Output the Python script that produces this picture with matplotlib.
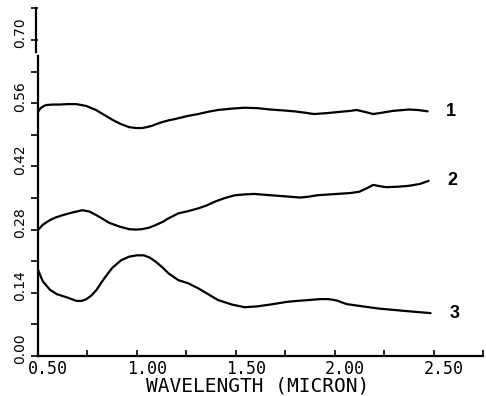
import numpy as np
import matplotlib
matplotlib.use('Agg')
import matplotlib.pyplot as plt
from matplotlib.transforms import ScaledTranslation

# Reflectance curves read against wavelength (micron)
wl1 = [0.50, 0.513, 0.53, 0.543, 0.575, 0.61, 0.65, 0.693, 0.743, 0.793, 0.835,
       0.877, 0.918, 0.96, 0.995, 1.027, 1.05, 1.077, 1.10, 1.127, 1.16, 1.193,
       1.26, 1.31, 1.36, 1.41, 1.48, 1.545, 1.61, 1.675, 1.74, 1.795, 1.85, 1.895,
       1.96, 2.03, 2.08, 2.11, 2.15, 2.195, 2.24, 2.295, 2.375, 2.42, 2.47]
r1 = [0.541, 0.549, 0.554, 0.556, 0.557, 0.557, 0.558, 0.558, 0.554, 0.545, 0.534,
      0.523, 0.514, 0.507, 0.505, 0.505, 0.507, 0.510, 0.514, 0.518, 0.522, 0.525,
      0.532, 0.536, 0.541, 0.545, 0.548, 0.550, 0.549, 0.546, 0.544, 0.542, 0.539, 0.536,
      0.538, 0.541, 0.543, 0.545, 0.541, 0.536, 0.539, 0.543, 0.546, 0.545, 0.542]

wl2 = [0.50, 0.525, 0.56, 0.59, 0.625, 0.675, 0.725, 0.76, 0.795, 0.83, 0.86,
       0.91, 0.96, 0.995, 1.025, 1.06, 1.095, 1.13, 1.16, 1.21, 1.26, 1.31, 1.35,
       1.395, 1.445, 1.495, 1.545, 1.595, 1.65, 1.71, 1.77, 1.825, 1.87, 1.91, 2.01,
       2.08, 2.125, 2.16, 2.195, 2.23, 2.26, 2.32, 2.375, 2.43, 2.475]
r2 = [0.279, 0.291, 0.301, 0.307, 0.312, 0.318, 0.323, 0.320, 0.312, 0.303, 0.295,
      0.287, 0.281, 0.280, 0.281, 0.284, 0.290, 0.297, 0.305, 0.316, 0.321, 0.327, 0.333,
      0.342, 0.350, 0.356, 0.358, 0.359, 0.357, 0.355, 0.353, 0.351, 0.353, 0.356, 0.359,
      0.361, 0.364, 0.371, 0.379, 0.376, 0.374, 0.375, 0.377, 0.381, 0.388]

wl3 = [0.50, 0.512, 0.525, 0.56, 0.595, 0.645, 0.695, 0.72, 0.745, 0.77, 0.795,
       0.835, 0.875, 0.92, 0.96, 1.00, 1.035, 1.065, 1.095, 1.13, 1.16, 1.21, 1.26,
       1.31, 1.36, 1.41, 1.48, 1.545, 1.61, 1.675, 1.76, 1.81, 1.87, 1.925, 1.97, 2.01,
       2.06, 2.14, 2.225, 2.35, 2.485]
r3 = [0.191, 0.178, 0.165, 0.147, 0.137, 0.130, 0.122, 0.122, 0.126, 0.134, 0.146,
      0.172, 0.195, 0.212, 0.220, 0.223, 0.223, 0.218, 0.209, 0.196, 0.183, 0.168, 0.161,
      0.150, 0.137, 0.124, 0.114, 0.108, 0.110, 0.114, 0.120, 0.122, 0.124, 0.126, 0.126,
      0.123, 0.115, 0.110, 0.105, 0.100, 0.095]

curve_names = ['1', '2', '3']
x_major = [0.50, 1.00, 1.50, 2.00, 2.50]
y_major = [0.00, 0.14, 0.28, 0.42, 0.56, 0.70]

fig = plt.figure(figsize=(4.86, 3.96), dpi=100)
ax = fig.add_axes([38 / 486, 40 / 396, 445 / 486, 347.6 / 396])

for wl, r, name in zip([wl1, wl2, wl3], [r1, r2, r3], curve_names):
    ax.plot(wl, r, color='black', lw=1.6, solid_joinstyle='round', solid_capstyle='round')
    ax.text(wl[-1] + 0.12, r[-1], name, ha='center', va='center',
            fontsize=13, fontweight='bold', family='Liberation Sans')

ax.set_xlim(0.5, 2.725)
ax.set_ylim(0.0, 0.77)

for side in ['top', 'right']:
    ax.spines[side].set_visible(False)
for side in ['left', 'bottom']:
    ax.spines[side].set_linewidth(1.6)

# broken y axis: lower part on the spine, upper part drawn a bit to the left
ax.spines['left'].set_bounds(0.0, 0.664)
ax.plot([-0.005, -0.005], [0.673, 0.77], color='black', lw=1.6,
        transform=ax.get_yaxis_transform(), clip_on=False)

ax.set_xticks(np.arange(0.5, 2.76, 0.25))
ax.set_yticks(np.arange(0.0, 0.771, 0.07))
ax.set_xticklabels([])
ax.set_yticklabels([])
ax.tick_params(axis='x', direction='in', length=4, width=1.2)
ax.tick_params(axis='y', direction='out', length=5, width=1.2)

ylab_tr = ax.get_yaxis_transform() + ScaledTranslation(-0.18, 0.07, fig.dpi_scale_trans)
for v in y_major:
    ax.text(0, v, f'{v:.2f}', rotation=90, ha='center', va='center',
            fontsize=10, family='DejaVu Sans', transform=ylab_tr)

xlab_tr = ax.get_xaxis_transform() + ScaledTranslation(0.10, -0.13, fig.dpi_scale_trans)
for v in x_major:
    ax.text(v, 0, f'{v:.2f}', ha='center', va='center',
            fontsize=12, family='DejaVu Sans Mono', transform=xlab_tr)

ax.text(0.493, 0, 'WAVELENGTH (MICRON)', ha='center', va='center', fontsize=14,
        family='DejaVu Sans Mono',
        transform=ax.transAxes + ScaledTranslation(0, -0.30, fig.dpi_scale_trans))

fig.savefig('out.png', dpi=100)
